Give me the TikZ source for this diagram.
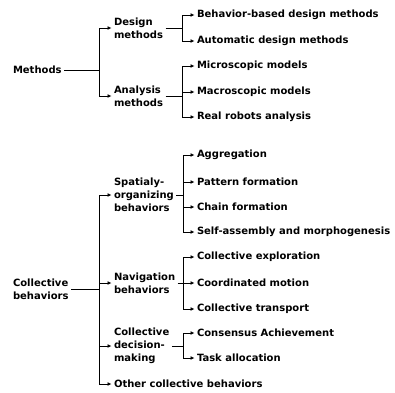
\documentclass[tikz,border=0pt]{standalone}
\usepackage{fontspec}
\setmainfont{DejaVu Sans}
\usetikzlibrary{arrows.meta}

\tikzset{
  item/.style={anchor=west,inner sep=0pt,outer sep=2.5pt,align=left,
    font=\fontsize{10}{13}\selectfont\bfseries},
  arr/.style={-{Latex[length=4pt,width=4pt]}}
}

\begin{document}
\begin{tikzpicture}[x=1pt,y=-1pt,line width=0.9pt]
\useasboundingbox[fill=white] (0,0) rectangle (395,392);
% roots
\node (methods) at (10.5,70) [item] {Methods};
\node (collective) at (10.5,289) [item] {Collective\\behaviors};
% second level
\node (design) at (111.5,28) [item] {Design\\methods};
\node (analysis) at (111.5,96) [item] {Analysis\\methods};
\node (spatial) at (111.5,195) [item] {Spatialy-\\organizing\\behaviors};
\node (navig) at (111.5,283) [item] {Navigation\\behaviors};
\node (decision) at (111.5,346) [item] {Collective\\decision-\\making};
\node (other) at (111.5,384) [item] {Other collective behaviors};
% leaves
\node (behbased) at (194.5,15) [item] {Behavior-based design methods};
\node (automatic) at (194.5,41) [item] {Automatic design methods};
\node (micro) at (194.5,66) [item] {Microscopic models};
\node (macro) at (194.5,92) [item] {Macroscopic models};
\node (realrob) at (194.5,117) [item] {Real robots analysis};
\node (aggr) at (194.5,155) [item] {Aggregation};
\node (pattern) at (194.5,182) [item] {Pattern formation};
\node (chain) at (194.5,207) [item] {Chain formation};
\node (selfasm) at (194.5,232) [item] {Self-assembly and morphogenesis};
\node (explor) at (194.5,257) [item] {Collective exploration};
\node (coord) at (194.5,283) [item] {Coordinated motion};
\node (transport) at (194.5,309) [item] {Collective transport};
\node (consensus) at (194.5,333) [item] {Consensus Achievement};
\node (task) at (194.5,358) [item] {Task allocation};
% junctions
\coordinate (mj) at (99,0);
\coordinate (cj) at (99,0);
\coordinate (lj) at (182,0);
\coordinate (lk) at (183,0);
% methods tree
\draw (methods.east) -- (methods.east -| mj);
\draw (mj |- design.west) -- (mj |- analysis.west);
\draw[arr] (mj |- design.west) -- (design.west);
\draw[arr] (mj |- analysis.west) -- (analysis.west);
\draw (design.east) -- (design.east -| lj);
\draw (lj |- behbased.west) -- (lj |- automatic.west);
\draw (analysis.east) -- (analysis.east -| lj);
\draw (lj |- micro.west) -- (lj |- realrob.west);
\foreach \n in {behbased,automatic,micro,macro,realrob}
  \draw[arr] (lj |- \n.west) -- (\n.west);
% collective behaviors tree
\draw (collective.east) -- (collective.east -| cj);
\draw (cj |- spatial.west) -- (cj |- other.west);
\foreach \n in {spatial,navig,decision,other}
  \draw[arr] (cj |- \n.west) -- (\n.west);
\draw (spatial.east) -- (spatial.east -| lk);
\draw (lk |- aggr.west) -- (lk |- selfasm.west);
\draw (navig.east) -- (navig.east -| lk);
\draw (lk |- explor.west) -- (lk |- transport.west);
\draw (decision.east) -- (decision.east -| lk);
\draw (lk |- consensus.west) -- (lk |- task.west);
\foreach \n in {aggr,pattern,chain,selfasm,explor,coord,transport,consensus,task}
  \draw[arr] (lk |- \n.west) -- (\n.west);
\end{tikzpicture}
\end{document}
